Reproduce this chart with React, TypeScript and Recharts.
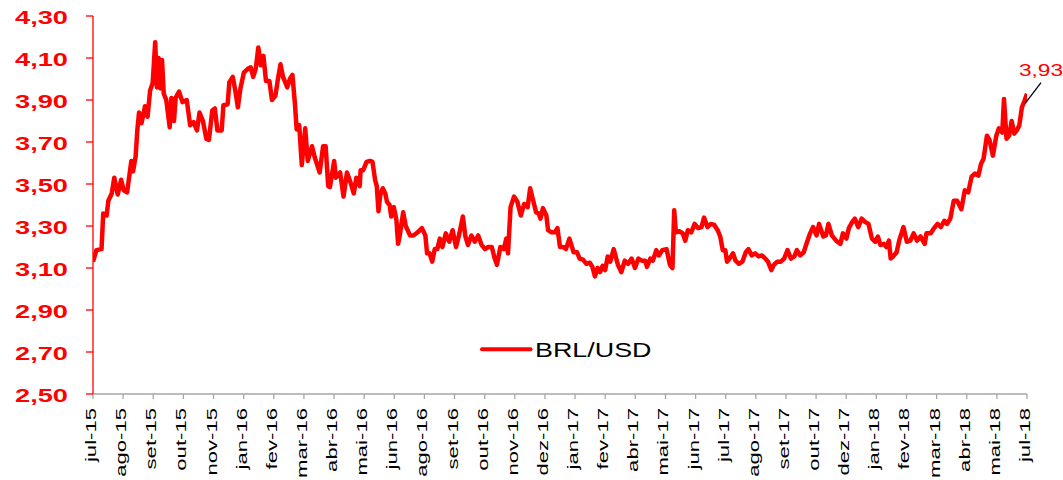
import React from 'react';
import { LineChart, Line, XAxis, YAxis, Legend, LabelList } from 'recharts';

const monthLabels = [
  'jul-15', 'ago-15', 'set-15', 'out-15', 'nov-15', 'jan-16', 'fev-16', 'mar-16',
  'abr-16', 'mai-16', 'jun-16', 'ago-16', 'set-16', 'out-16', 'nov-16', 'dez-16',
  'jan-17', 'fev-17', 'abr-17', 'mai-17', 'jun-17', 'jul-17', 'ago-17', 'set-17',
  'out-17', 'dez-17', 'jan-18', 'fev-18', 'mar-18', 'abr-18', 'mai-18', 'jul-18',
];

const days = [
  0, 4, 10, 12, 16, 18, 22, 25, 29, 33, 36, 40, 43, 45, 47, 50, 52, 54, 57, 61,
  64, 67, 70, 73, 75, 77, 79, 81, 83, 86, 90, 92, 95, 97, 101, 105, 110, 114, 118, 122,
  125, 129, 133, 136, 140, 143, 146, 151, 153, 158, 160, 164, 167, 170, 173, 177, 182, 185, 188, 191,
  194, 197, 200, 203, 207, 210, 214, 217, 220, 223, 228, 231, 234, 237, 239, 242, 245, 249, 252, 257,
  260, 266, 270, 273, 276, 278, 283, 285, 290, 294, 298, 302, 306, 309, 313, 314, 317, 321, 325, 328,
  331, 333, 335, 337, 340, 343, 345, 348, 350, 353, 356, 358, 360, 364, 367, 372, 376, 381, 386, 390,
  392, 395, 398, 401, 404, 407, 410, 414, 418, 422, 426, 430, 434, 437, 440, 444, 448, 452, 456, 460,
  464, 468, 471, 474, 478, 482, 485, 487, 490, 494, 498, 502, 506, 510, 513, 516, 520, 523, 525, 528,
  532, 534, 538, 542, 545, 548, 552, 555, 559, 564, 568, 571, 575, 579, 583, 586, 589, 592, 595, 598,
  601, 604, 607, 611, 614, 616, 620, 624, 628, 632, 636, 640, 644, 648, 650, 654, 657, 661, 664, 668,
  673, 677, 680, 682, 684, 688, 692, 695, 698, 702, 706, 710, 714, 717, 721, 725, 729, 733, 736, 739,
  742, 744, 747, 751, 754, 758, 762, 766, 769, 773, 777, 781, 785, 789, 792, 796, 799, 803, 807, 811,
  815, 819, 823, 826, 830, 834, 838, 841, 845, 849, 852, 857, 860, 863, 867, 872, 877, 880, 884, 887,
  891, 894, 898, 902, 906, 910, 914, 918, 921, 924, 928, 931, 934, 936, 939, 943, 946, 951, 955, 959,
  963, 967, 971, 976, 978, 983, 987, 991, 995, 999, 1002, 1006, 1010, 1014, 1019, 1023, 1027, 1031, 1035, 1039,
  1042, 1045, 1049, 1052, 1056, 1060, 1063, 1067, 1069, 1072, 1075, 1078, 1081, 1084, 1087, 1090, 1093, 1096,
];

const rates = [
  3.13, 3.185, 3.19, 3.36, 3.35, 3.42, 3.455, 3.53, 3.45, 3.52, 3.47, 3.46, 3.55, 3.61, 3.56, 3.63, 3.755, 3.84, 3.79, 3.87,
  3.82, 3.945, 3.98, 4.175, 3.96, 4.10, 3.955, 4.09, 3.93, 3.90, 3.77, 3.91, 3.80, 3.91, 3.94, 3.89, 3.90, 3.78, 3.795, 3.755,
  3.84, 3.80, 3.715, 3.71, 3.85, 3.86, 3.755, 3.755, 3.875, 3.88, 3.985, 4.01, 3.945, 3.865, 3.955, 4.03, 4.05, 4.055, 4.01, 4.05,
  4.15, 4.065, 4.11, 3.99, 3.99, 3.90, 3.92, 4.00, 4.07, 4.01, 3.96, 4.00, 4.02, 3.88, 3.76, 3.78, 3.59, 3.765, 3.61, 3.68,
  3.63, 3.555, 3.68, 3.68, 3.49, 3.485, 3.61, 3.53, 3.555, 3.44, 3.555, 3.51, 3.455, 3.53, 3.49, 3.565, 3.565, 3.605, 3.61, 3.605,
  3.52, 3.49, 3.37, 3.445, 3.48, 3.455, 3.415, 3.40, 3.345, 3.39, 3.33, 3.215, 3.255, 3.365, 3.30, 3.255, 3.255, 3.27, 3.29, 3.255,
  3.17, 3.17, 3.13, 3.19, 3.19, 3.24, 3.20, 3.265, 3.225, 3.28, 3.20, 3.265, 3.345, 3.25, 3.21, 3.255, 3.225, 3.255, 3.21, 3.19,
  3.20, 3.20, 3.15, 3.115, 3.20, 3.19, 3.24, 3.17, 3.39, 3.44, 3.415, 3.35, 3.405, 3.39, 3.48, 3.43, 3.365, 3.36, 3.335, 3.385,
  3.35, 3.28, 3.27, 3.27, 3.29, 3.20, 3.20, 3.19, 3.24, 3.175, 3.175, 3.145, 3.14, 3.12, 3.125, 3.105, 3.06, 3.10, 3.08, 3.11,
  3.09, 3.155, 3.13, 3.19, 3.145, 3.115, 3.08, 3.135, 3.12, 3.145, 3.10, 3.145, 3.135, 3.135, 3.105, 3.145, 3.135, 3.185, 3.16, 3.185,
  3.19, 3.115, 3.10, 3.375, 3.27, 3.275, 3.265, 3.23, 3.28, 3.27, 3.31, 3.29, 3.295, 3.34, 3.295, 3.31, 3.305, 3.28, 3.25, 3.185,
  3.185, 3.13, 3.145, 3.17, 3.135, 3.12, 3.13, 3.175, 3.19, 3.16, 3.17, 3.155, 3.16, 3.145, 3.13, 3.09, 3.115, 3.13, 3.13, 3.145,
  3.185, 3.145, 3.155, 3.185, 3.16, 3.175, 3.225, 3.26, 3.295, 3.255, 3.31, 3.25, 3.255, 3.31, 3.255, 3.23, 3.215, 3.265, 3.24, 3.29,
  3.32, 3.335, 3.295, 3.335, 3.32, 3.31, 3.24, 3.225, 3.25, 3.21, 3.215, 3.20, 3.23, 3.145, 3.155, 3.175, 3.23, 3.295, 3.225, 3.23,
  3.265, 3.23, 3.25, 3.215, 3.265, 3.265, 3.29, 3.31, 3.295, 3.325, 3.31, 3.335, 3.42, 3.42, 3.38, 3.47, 3.46, 3.535, 3.55, 3.54,
  3.595, 3.62, 3.73, 3.71, 3.635, 3.73, 3.765, 3.745, 3.905, 3.715, 3.73, 3.80, 3.74, 3.755, 3.78, 3.865, 3.895, 3.93,
];

const yTicks = [2.5, 2.7, 2.9, 3.1, 3.3, 3.5, 3.7, 3.9, 4.1, 4.3];
const seriesName = 'BRL/USD';

const SPAN = days[days.length - 1];
const data = days.map((d, i) => ({ day: d, rate: rates[i] }));
const xTicks = monthLabels.map((_, k) => (k * SPAN) / (monthLabels.length - 1));

const RED = '#FF0000';
const GRAY = '#A6A6A6';
const FONT = '"Liberation Sans", Arial, sans-serif';

const fmt = (v: number) => v.toFixed(2).replace('.', ',');

const YTick = (props: any) => {
  const { x, y, payload } = props;
  const sx = 1.47;
  return (
    <text
      x={x}
      y={y + 7.7}
      textAnchor="end"
      fill={RED}
      fontWeight="bold"
      fontSize={18.5}
      fontFamily={FONT}
      transform={`matrix(${sx},0,0,1,${x - sx * x},0)`}
    >
      {fmt(payload.value)}
    </text>
  );
};

const XTick = (props: any) => {
  const { x, y, payload } = props;
  const idx = Math.round((payload.value * (monthLabels.length - 1)) / SPAN);
  return (
    <g transform={`translate(${x},${y}) rotate(-90)`}>
      <text
        x={0}
        y={3}
        textAnchor="end"
        fill="#000"
        fontSize={14}
        fontFamily={FONT}
        transform="scale(1.58,1)"
      >
        {monthLabels[idx]}
      </text>
    </g>
  );
};

const LastLabel = (props: any) => {
  const { x, y, index, value } = props;
  if (index !== data.length - 1) return null;
  const sx = 1.39;
  const cx = x + 14;
  return (
    <g>
      <line x1={x - 2} y1={y + 10} x2={x + 14} y2={y - 11} stroke="#000" strokeWidth={1.3} />
      <text
        x={cx}
        y={y - 18}
        textAnchor="middle"
        fill={RED}
        fontSize={16.3}
        fontFamily={FONT}
        transform={`matrix(${sx},0,0,1,${cx - sx * cx},0)`}
      >
        {fmt(value)}
      </text>
    </g>
  );
};

const LegendContent = () => {
  const tx = 65;
  const sx = 1.28;
  return (
    <svg width={220} height={34} style={{ display: 'block', overflow: 'visible' }}>
      <line x1={12} y1={19.3} x2={60.5} y2={19.3} stroke={RED} strokeWidth={4} strokeLinecap="round" />
      <text
        x={tx}
        y={26.7}
        fill="#000"
        fontSize={21}
        fontFamily={FONT}
        transform={`matrix(${sx},0,0,1,${tx - sx * tx},0)`}
      >
        {seriesName}
      </text>
    </svg>
  );
};

export default function App() {
  return (
    <div style={{ position: 'absolute', left: 0, top: 0, background: '#fff' }}>
      <LineChart width={1063} height={480} data={data} margin={{ top: 16, right: 36, bottom: 6, left: 0 }}>
        <XAxis
          dataKey="day"
          type="number"
          domain={[0, SPAN]}
          ticks={xTicks}
          interval={0}
          height={80}
          tick={<XTick />}
          tickSize={5}
          tickMargin={9}
          axisLine={{ stroke: GRAY, strokeWidth: 1.3 }}
          tickLine={{ stroke: GRAY, strokeWidth: 1.3 }}
          allowDataOverflow
        />
        <YAxis
          type="number"
          domain={[2.5, 4.3]}
          ticks={yTicks}
          interval={0}
          width={93}
          tick={<YTick />}
          tickSize={7}
          tickMargin={18}
          axisLine={{ stroke: RED, strokeWidth: 1.3 }}
          tickLine={{ stroke: RED, strokeWidth: 1.3 }}
        />
        <Legend
          layout="horizontal"
          verticalAlign="middle"
          align="center"
          content={<LegendContent />}
          wrapperStyle={{ position: 'absolute', left: 470, top: 330, width: 220, height: 34 }}
        />
        <Line
          type="linear"
          dataKey="rate"
          name={seriesName}
          stroke={RED}
          strokeWidth={4.5}
          dot={false}
          activeDot={false}
          isAnimationActive={false}
          strokeLinejoin="round"
        >
          <LabelList dataKey="rate" content={<LastLabel />} />
        </Line>
      </LineChart>
    </div>
  );
}
